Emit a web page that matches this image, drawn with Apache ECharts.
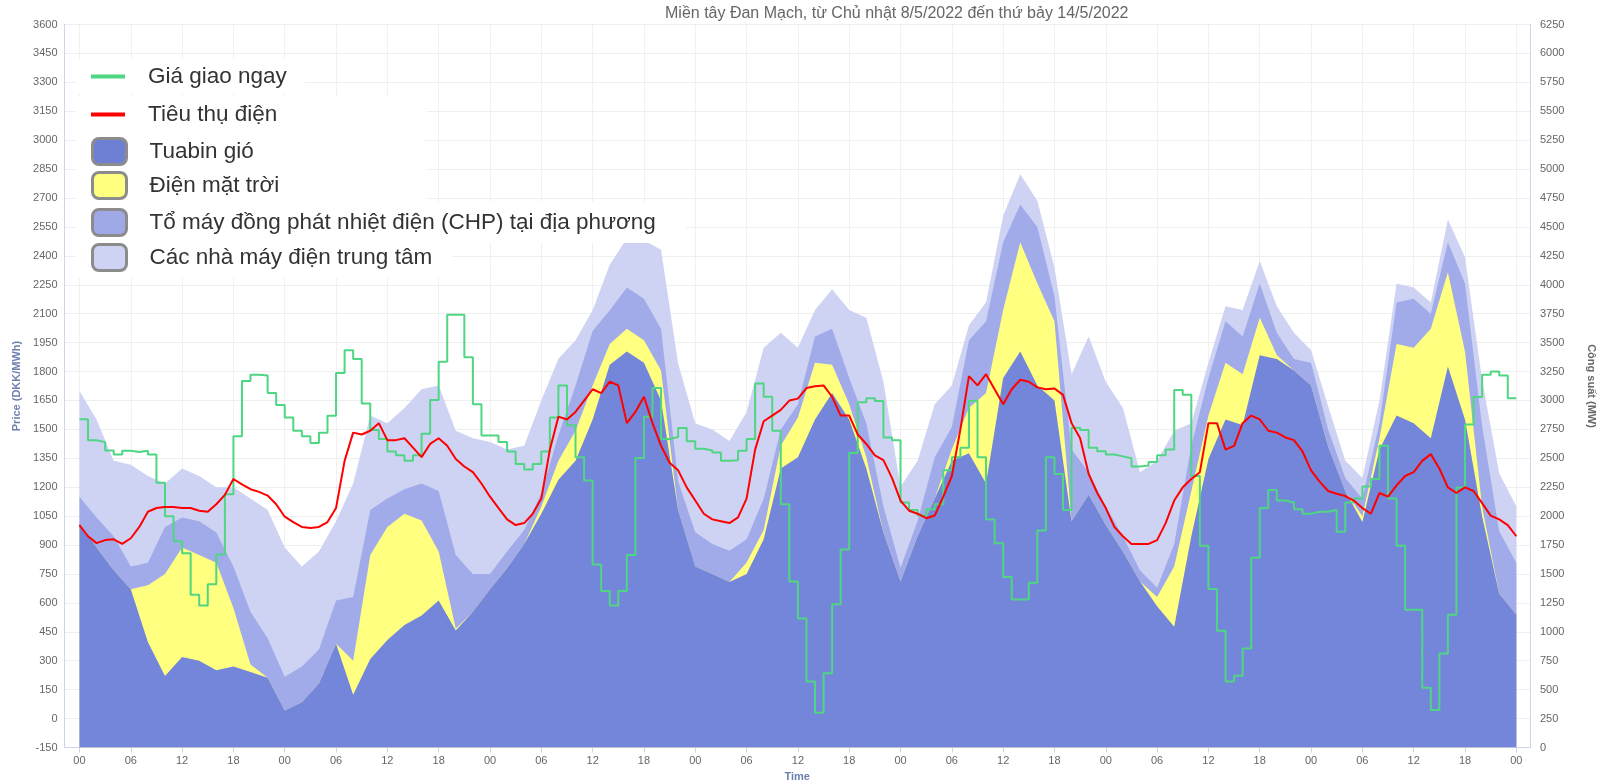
<!DOCTYPE html>
<html>
<head>
<meta charset="utf-8">
<script src="https://cdn.jsdelivr.net/npm/echarts@6/dist/echarts.min.js"></script>
<style>
  html, body { margin: 0; padding: 0; background: #fff; }
  #chart { width: 1597px; height: 780px; }
</style>
</head>
<body>
<div id="chart"></div>
<script>
// hours since Sunday 8/5/2022 00:00, production read every 2 hours
var hours2 = [];
for (var i = 0; i <= 168; i += 2) hours2.push(i);
var hours1 = [];
for (var j = 0; j <= 168; j++) hours1.push(j);
var tickHours = [0, 6, 12, 18, 24, 30, 36, 42, 48, 54, 60, 66, 72, 78, 84, 90, 96, 102, 108, 114, 120, 126, 132, 138, 144, 150, 156, 162, 168];

// production in MW (right axis), one array per source
var wind = [1940, 1728, 1532, 1369, 913, 619, 782, 750, 668, 700, 652, 603,
  320, 391, 554, 897, 456, 766, 929, 1060, 1141, 1271, 1011, 1174,
  1369, 1549, 1760, 2021, 2315, 2478, 2836, 3309, 3423, 3325, 2999, 2050,
  1565, 1500, 1430, 1500, 1800, 2412, 2510, 2836, 3064, 2836, 2412, 1858,
  1434, 1826, 2152, 2478, 2543, 2282, 3195, 3423, 3130, 3000, 1956, 2184,
  1923, 1695, 1434, 1222, 1043, 1826, 2494, 2836, 2787, 3390, 3358, 3260,
  3130, 2600, 2217, 1950, 2575, 2869, 2804, 2673, 3293, 2836, 2000, 1330,
  1150];
var solar = [0, 0, 0, 0, 489, 881, 946, 913, 929, 506, 65, 0,
  0, 0, 0, 0, 294, 897, 978, 961, 822, 424, 16, 0,
  0, 0, 0, 60, 163, 260, 294, 179, 196, 196, 261, 0,
  0, 0, 0, 100, 80, 196, 343, 489, 245, 131, 98, 0,
  0, 0, 0, 100, 391, 782, 587, 945, 880, 684, 0, 0,
  0, 0, 0, 78, 522, 390, 375, 489, 440, 326, 32, 0,
  0, 0, 0, 50, 98, 619, 652, 947, 815, 587, 80, 0,
  0];
var chp = [228, 261, 294, 196, 195, 407, 261, 293, 261, 359, 457, 342,
  292, 309, 294, 374, 550, 391, 245, 212, 319, 522, 636, 326,
  131, 146, 120, 120, 222, 392, 470, 292, 358, 358, 359, 250,
  295, 260, 270, 200, 270, 142, 114, 228, 310, 228, 294, 228,
  120, 134, 358, 193, 587, 620, 586, 326, 489, 216, 619, 196,
  163, 131, 98, 80, 195, 392, 326, 359, 326, 294, 196, 98,
  195, 150, 113, 150, 131, 359, 423, 129, 260, 587, 700, 540,
  447];
var central = [913, 847, 652, 880, 750, 375, 423, 391, 391, 684, 978, 1109,
  1116, 865, 847, 685, 982, 815, 652, 701, 815, 913, 1075, 1173,
  1141, 880, 728, 798, 660, 391, 180, 393, 423, 506, 684, 1020,
  940, 990, 950, 1100, 1306, 836, 489, 229, 342, 587, 912, 1076,
  700, 518, 457, 359, 129, 166, 229, 261, 228, 250, 652, 1173,
  1076, 1108, 848, 1098, 978, 196, 130, 130, 229, 195, 228, 228,
  110, 200, 150, 180, 195, 163, 98, 98, 196, 228, 400, 500,
  489];

// consumption in MW, hourly
var consumption = [1923, 1826, 1767, 1793, 1800, 1760, 1809, 1907, 2038, 2070, 2080, 2080, 2070, 2070, 2047, 2038, 2103, 2184, 2321, 2275, 2233, 2210, 2178, 2103,
  1995, 1949, 1907, 1897, 1907, 1949, 2070, 2478, 2722, 2706, 2738, 2804, 2657, 2657, 2673, 2592, 2510, 2624, 2673, 2608, 2494, 2429, 2380, 2282,
  2168, 2070, 1972, 1923, 1940, 2021, 2152, 2575, 2860, 2836, 2901, 2999, 3097, 3064, 3162, 3130, 2804, 2901, 3032, 2804, 2608, 2461, 2396, 2249,
  2135, 2021, 1972, 1956, 1940, 1989, 2152, 2575, 2820, 2869, 2918, 2999, 3016, 3107, 3123, 3130, 3032, 2869, 2869, 2706, 2624, 2526, 2484, 2331,
  2135, 2047, 2021, 1982, 2005, 2168, 2347, 2750, 3211, 3130, 3227, 3097, 2967, 3097, 3179, 3162, 3113, 3097, 3104, 3048, 2804, 2673, 2364, 2200,
  2070, 1907, 1826, 1760, 1760, 1760, 1793, 1940, 2135, 2249, 2321, 2380, 2804, 2804, 2575, 2608, 2804, 2869, 2836, 2738, 2722, 2680, 2657, 2559,
  2396, 2298, 2217, 2194, 2174, 2135, 2070, 2021, 2200, 2168, 2266, 2347, 2380, 2478, 2536, 2412, 2249, 2200, 2249, 2217, 2112, 2005, 1972, 1923,
  1826];

// spot price DKK/MWh, one value per hour (last value repeated to close the step)
var spotPrice = [1552, 1444, 1434, 1391, 1370, 1389, 1383, 1389, 1370, 1223, 1049, 920, 857, 642, 587, 697, 851, 1164, 1464, 1751, 1783, 1779, 1689, 1626,
  1562, 1493, 1464, 1430, 1483, 1571, 1792, 1910, 1865, 1634, 1497, 1450, 1385, 1366, 1337, 1366, 1477, 1653, 1851, 2094, 2094, 1874, 1630, 1468,
  1468, 1434, 1385, 1321, 1292, 1321, 1385, 1561, 1727, 1522, 1356, 1235, 799, 662, 587, 662, 848, 1352, 1565, 1714, 1450, 1460, 1507, 1438,
  1399, 1391, 1380, 1337, 1340, 1389, 1450, 1738, 1669, 1493, 1112, 711, 519, 192, 30, 235, 593, 877, 1377, 1641, 1661, 1647, 1458, 1444,
  1121, 1082, 1053, 1086, 1112, 1288, 1356, 1405, 1649, 1356, 1033, 910, 734, 617, 617, 705, 975, 1356, 1268, 1082, 1509, 1497, 1405, 1386,
  1370, 1360, 1350, 1307, 1313, 1331, 1366, 1395, 1704, 1679, 1258, 897, 672, 456, 192, 222, 364, 834, 1092, 1186, 1131, 1121, 1086, 1063,
  1073, 1073, 1082, 969, 1121, 1141, 1204, 1243, 1415, 1141, 897, 565, 565, 160, 45, 337, 539, 1199, 1525, 1668, 1783, 1800, 1779, 1662,
  1662];

var names = ['Giá giao ngay', 'Tiêu thụ điện', 'Tuabin gió', 'Điện mặt trời', 'Tổ máy đồng phát nhiệt điện (CHP) tại địa phương', 'Các nhà máy điện trung tâm'];
var colors = {
  price: '#4fd682', load: '#ff0000',
  wind: '#7486d9', solar: '#ffff80', chp: '#a2abea', central: '#cfd3f3'
};

// ECharts stacks the x dimension on a value x axis, so the stack is summed here
// and each layer is filled from zero, drawn from the top layer down.
var layers = [wind, solar, chp, central];
var stacked = [];
layers.forEach(function (arr, li) {
  stacked.push(arr.map(function (v, k) { return v + (li > 0 ? stacked[li - 1][k] : 0); }));
});

function pairs(xs, ys) {
  return xs.map(function (x, k) { return [x, ys[k]]; });
}

function areaSeries(name, values, color) {
  return {
    name: name, type: 'line', yAxisIndex: 1,
    data: pairs(hours2, values),
    symbol: 'none', lineStyle: { width: 0 },
    itemStyle: { color: color },
    areaStyle: { color: color, opacity: 1, origin: 'start' },
    z: 2
  };
}

function legendRow(name, top, lineIcon, fill, padRight) {
  var item = { name: name };
  if (lineIcon) {
    item.icon = 'rect';
  } else {
    item.icon = 'roundRect';
    item.itemStyle = { color: fill, borderColor: '#8c8c8c', borderWidth: 3 };
  }
  return {
    data: [item], left: 76, top: top, orient: 'vertical',
    backgroundColor: '#fff', padding: [6, padRight, 6, 15],
    itemWidth: 34, itemHeight: lineIcon ? 4 : 26,
    selectedMode: false,
    textStyle: { fontSize: 22.5, color: '#333', fontFamily: 'Liberation Sans, Arial, sans-serif', padding: [0, 0, 0, 18] }
  };
}

var chart = echarts.init(document.getElementById('chart'));
var xFmt = function (v) { var h = Math.round(v) % 24; return (h < 10 ? '0' : '') + h; };
var yFmt = function (v) { return String(v); };

chart.setOption({
  animation: false,
  backgroundColor: '#fff',
  title: {
    text: 'Miền tây Đan Mạch, từ Chủ nhật 8/5/2022 đến thứ bảy 14/5/2022',
    left: 665, top: 6, padding: 0,
    textStyle: { fontSize: 16, fontWeight: 'normal', color: '#666', fontFamily: 'Liberation Sans, Arial, sans-serif' }
  },
  legend: [
    legendRow(names[0], 59, true, null, 18),
    legendRow(names[1], 97, true, null, 150),
    legendRow(names[2], 131, false, '#6e80d4', 170),
    legendRow(names[3], 165, false, colors.solar, 148),
    legendRow(names[4], 202, false, '#a0a9e8', 30),
    legendRow(names[5], 237, false, colors.central, 20)
  ],
  grid: { left: 64.5, right: 67, top: 24.5, bottom: 32.5, containLabel: false, outerBoundsMode: 'none' },
  xAxis: {
    type: 'value', min: -1.75, max: 169.6,
    name: 'Time', nameLocation: 'middle', nameGap: 20,
    nameTextStyle: { color: '#6d7fae', fontWeight: 'bold', fontSize: 11 },
    axisLine: { show: true, onZero: false, lineStyle: { color: '#ccd6eb' } },
    axisTick: { show: true, customValues: tickHours, length: 5, lineStyle: { color: '#ccd6eb' } },
    axisLabel: { customValues: tickHours, formatter: xFmt, color: '#666', fontSize: 11, margin: 8 },
    splitLine: { show: true, lineStyle: { color: '#e3e3e3', type: 'dotted' } }
  },
  yAxis: [{
    type: 'value', min: -150, max: 3600, interval: 150,
    name: 'Price (DKK/MWh)', nameLocation: 'middle', nameRotate: 90, nameGap: 40,
    nameTextStyle: { color: '#6d7fae', fontWeight: 'bold', fontSize: 11 },
    axisLine: { show: true, onZero: false, lineStyle: { color: '#ccd6eb' } },
    axisTick: { show: false },
    axisLabel: { color: '#666', fontSize: 11, margin: 7, formatter: yFmt },
    splitLine: { show: true, lineStyle: { color: '#dcdcdc', type: 'dotted' } }
  }, {
    type: 'value', min: 0, max: 6250, interval: 250, position: 'right',
    name: 'Công suất (MW)', nameLocation: 'middle', nameRotate: -90, nameGap: 56,
    nameTextStyle: { color: '#666', fontWeight: 'bold', fontSize: 11 },
    axisLine: { show: true, onZero: false, lineStyle: { color: '#ccd6eb' } },
    axisTick: { show: false },
    axisLabel: { color: '#666', fontSize: 11, margin: 10, formatter: yFmt },
    splitLine: { show: false }
  }],
  series: [
    areaSeries(names[5], stacked[3], colors.central),
    areaSeries(names[4], stacked[2], colors.chp),
    areaSeries(names[3], stacked[1], colors.solar),
    areaSeries(names[2], stacked[0], colors.wind),
    {
      name: names[0], type: 'line', yAxisIndex: 0, step: 'end',
      data: pairs(hours1, spotPrice), symbol: 'none',
      itemStyle: { color: colors.price },
      lineStyle: { color: colors.price, width: 2 }, z: 4
    },
    {
      name: names[1], type: 'line', yAxisIndex: 1,
      data: pairs(hours1, consumption), symbol: 'none',
      itemStyle: { color: colors.load },
      lineStyle: { color: colors.load, width: 2 }, z: 5
    }
  ]
});
</script>
</body>
</html>
